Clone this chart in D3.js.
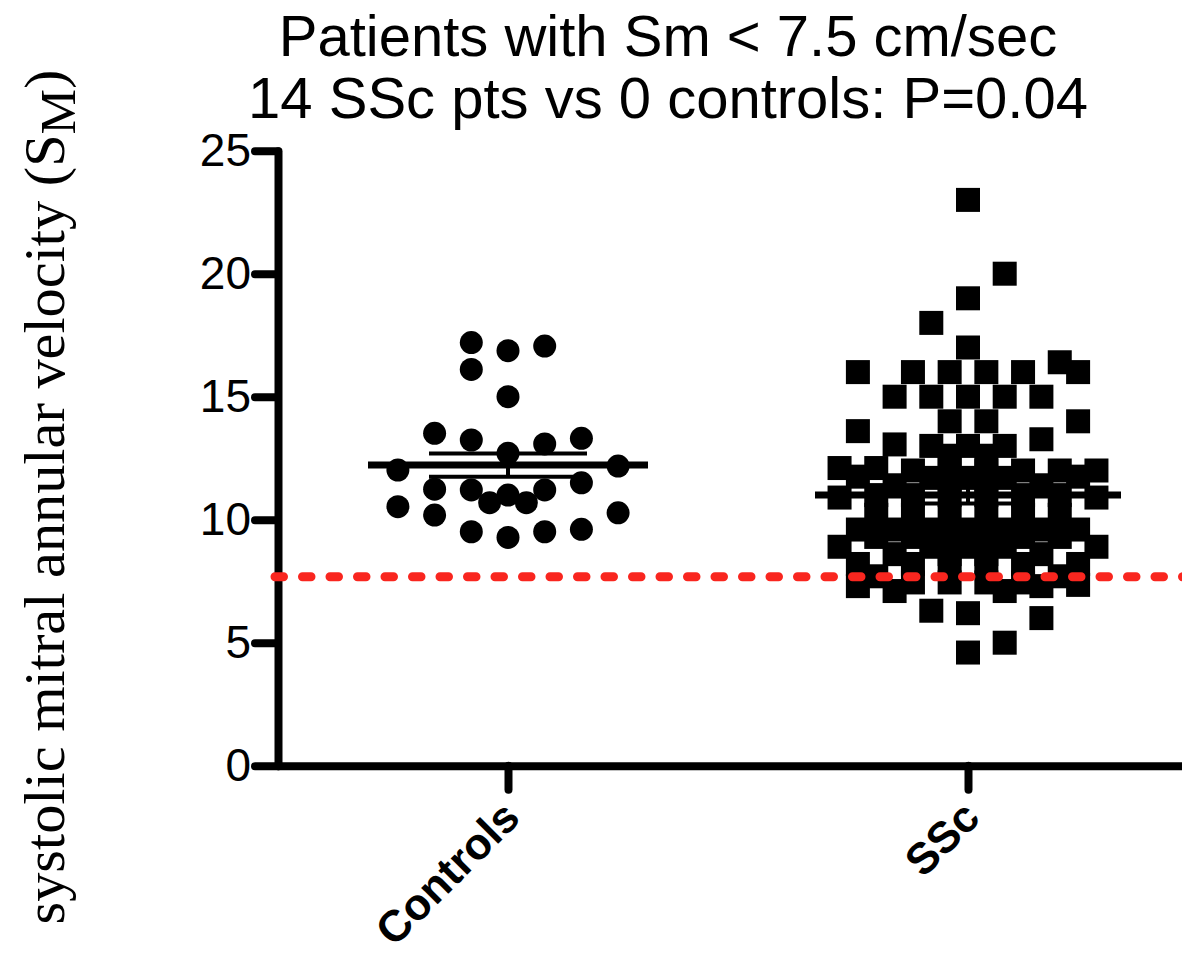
<!DOCTYPE html>
<html lang="en">
<head>
  <meta charset="UTF-8" />
  <title>Sm scatter</title>
  <style>
    body { margin: 0; background: #fff; }
    .axis path, .axis line {
      stroke: #000;
      stroke-width: 8px;
      stroke-linecap: round;
    }
    .axis text {
      font-family: "Liberation Sans", Arial, sans-serif;
      font-size: 46px;
      fill: #000;
    }
    .title {
      font-family: "Liberation Sans", Arial, sans-serif;
      font-size: 58px;
      text-anchor: middle;
    }
    .group-label {
      font-family: "Liberation Sans", Arial, sans-serif;
      font-size: 44px;
      font-weight: bold;
      text-anchor: end;
    }
    .y-label {
      font-family: "Liberation Serif", "Times New Roman", serif;
      font-size: 57px;
      text-anchor: middle;
    }
    .mean-line { stroke: #000; stroke-width: 7px; }
    .sem-line { stroke: #000; stroke-width: 4px; }
    .cutoff-line {
      fill: none;
      stroke: #f9261f;
      stroke-width: 9px;
      stroke-linecap: round;
      stroke-dasharray: 8.5, 19;
    }
  </style>
</head>
<body>
  <script src="https://cdn.jsdelivr.net/npm/d3@7"></script>
  <script>
    // data
    var groups = ["Controls", "SSc"];
    var titleLines = ["Patients with Sm < 7.5 cm/sec", "14 SSc pts vs 0 controls: P=0.04"];
    var yTicks = [0, 5, 10, 15, 20, 25];
    var cutoff = 7.68;
    var groupMeans = [12.22, 11.0];
    var groupSems = [0.47, 0.34];

    var controlsValues = [17.2, 16.87, 17.06, 16.11, 15.0, 13.51, 13.24, 12.7, 13.08, 13.31,
      12.02, 12.18, 11.24, 11.21, 10.69, 11.0, 10.69, 11.21, 11.5, 10.53,
      10.19, 10.28, 9.51, 9.28, 9.51, 9.61];
    var controlsSlots = [-2, 0, 2, -2, 0, -4, -2, 0, 2, 4,
      -6, 6, -4, -2, -1, 0, 1, 2, 4, -6,
      -4, 6, -2, 0, 2, 4];

    // SSc values, with their column slot in the scatter
    var sscValues = [23.0, 20.0, 19.0, 18.0, 17.0,
      16.0, 16.0, 16.0, 16.0, 16.0, 16.4, 16.0,
      15.0, 15.0, 15.0, 15.0, 15.0,
      14.0, 14.0, 14.0, 13.6,
      13.06, 13.0, 13.0, 13.0, 13.27,
      12.6, 12.6,
      12.1, 12.1, 12.0, 12.1, 12.0, 12.0, 12.0, 12.0,
      11.75, 11.7, 11.7, 11.7, 11.75,
      11.4, 11.4, 11.4, 11.4,
      10.9, 11.0, 11.0, 11.0, 11.0, 11.0, 11.0, 10.9,
      10.2, 10.2, 10.2, 10.2, 10.2, 10.2,
      9.6, 9.6, 9.6, 9.6, 9.6, 9.6, 9.6,
      9.3, 9.3, 9.3, 9.3, 9.3, 9.3,
      8.9, 8.9, 8.9, 8.9, 8.9,
      8.6, 8.6, 8.6, 8.6,
      8.2, 8.2, 8.2, 8.2, 8.2, 8.2,
      7.7, 7.7,
      7.3, 7.1, 7.45, 6.3, 7.45, 6.2, 4.6, 7.45, 7.1, 5.0, 7.45, 7.3, 6.0, 7.35];
    var sscSlots = [0, 2, 0, -2, 0,
      -6, -3, -1, 1, 3, 5, 6,
      -4, -2, 0, 2, 4,
      -1, 1, 6, -6,
      -4, -2, 0, 2, 4,
      -1, 1,
      -7, -5, -3, -1, 1, 3, 5, 7,
      -6, -2, 0, 2, 6,
      -4, -1, 1, 4,
      -7, -5, -3, -1, 1, 3, 5, 7,
      -5, -3, -1, 1, 3, 5,
      -6, -4, -2, 0, 2, 4, 6,
      -5, -3, -1, 1, 3, 5,
      -7, -2, 0, 2, 7,
      -4, -1, 1, 4,
      -6, -3, -1, 1, 3, 6,
      -5, 5,
      -6, -4, -3, -2, -1, 0, 0, 1, 2, 2, 3, 4, 4, 6];

    var w = 1182;
    var h = 956;
    var axisX = 278;
    var slotStep = 18.35;
    var meanHalf = [140, 153];
    var semHalf = [79, 62];

    var svg = d3.select("body").append("svg")
      .attr("width", w)
      .attr("height", h);

    var xScale = d3.scalePoint()
      .domain(groups)
      .range([axisX, 1198])
      .padding(0.5);

    var yScale = d3.scaleLinear()
      .domain([0, 25])
      .range([765.7, 150.7]);

    // titles
    svg.selectAll(".title")
      .data(titleLines)
      .enter()
      .append("text")
      .attr("class", "title")
      .attr("x", 668)
      .attr("y", function(d, i) { return 56 + i * 62; })
      .text(function(d) { return d; });

    // y label
    var yLabel = svg.append("text")
      .attr("class", "y-label")
      .attr("transform", "translate(64,497) rotate(-90)")
      .attr("textLength", 855)
      .attr("lengthAdjust", "spacingAndGlyphs");
    yLabel.append("tspan").text("systolic mitral annular velocity (S");
    yLabel.append("tspan").attr("dy", 11).style("font-size", "50px").text("M");
    yLabel.append("tspan").attr("dy", -11).text(")");

    // points
    var controls = controlsValues.map(function(v, i) {
      return { value: v, slot: controlsSlots[i] };
    });
    var ssc = sscValues.map(function(v, i) {
      return { value: v, slot: sscSlots[i] };
    });

    svg.append("g")
      .selectAll("circle")
      .data(controls)
      .enter()
      .append("circle")
      .attr("cx", function(d) { return xScale("Controls") + d.slot * slotStep; })
      .attr("cy", function(d) { return yScale(d.value); })
      .attr("r", 11.5)
      .attr("fill", "#000");

    var side = 24;
    svg.append("g")
      .selectAll("rect")
      .data(ssc)
      .enter()
      .append("rect")
      .attr("x", function(d) { return xScale("SSc") + d.slot * slotStep - side / 2; })
      .attr("y", function(d) { return yScale(d.value) - side / 2; })
      .attr("width", side)
      .attr("height", side)
      .attr("fill", "#000");

    // mean and sem bars
    groups.forEach(function(g, i) {
      var cx = xScale(g);
      svg.append("line")
        .attr("class", "mean-line")
        .attr("x1", cx - meanHalf[i])
        .attr("x2", cx + meanHalf[i])
        .attr("y1", yScale(groupMeans[i]))
        .attr("y2", yScale(groupMeans[i]));
      [1, -1].forEach(function(s) {
        svg.append("line")
          .attr("class", "sem-line")
          .attr("x1", cx - semHalf[i])
          .attr("x2", cx + semHalf[i])
          .attr("y1", yScale(groupMeans[i] + s * groupSems[i]))
          .attr("y2", yScale(groupMeans[i] + s * groupSems[i]));
      });
      svg.append("line")
        .attr("class", "sem-line")
        .attr("x1", cx)
        .attr("x2", cx)
        .attr("y1", yScale(groupMeans[i] + groupSems[i]))
        .attr("y2", yScale(groupMeans[i] - groupSems[i]));
    });

    // axes
    var yAxis = d3.axisLeft(yScale)
      .tickValues(yTicks)
      .tickSize(23)
      .tickSizeOuter(0)
      .tickPadding(4);

    var xAxis = d3.axisBottom(xScale)
      .tickSize(24)
      .tickSizeOuter(0)
      .tickFormat("");

    svg.append("g")
      .attr("class", "axis")
      .attr("transform", "translate(0," + yScale(0) + ")")
      .call(xAxis);

    svg.append("g")
      .attr("class", "axis")
      .attr("transform", "translate(" + axisX + ",0)")
      .call(yAxis);

    svg.selectAll(".group-label")
      .data(groups)
      .enter()
      .append("text")
      .attr("class", "group-label")
      .attr("transform", function(d) {
        return "translate(" + (xScale(d) + 14) + ",820) rotate(-45)";
      })
      .text(function(d) { return d; });

    // cutoff line
    svg.append("line")
      .attr("class", "cutoff-line")
      .attr("x1", 275)
      .attr("x2", w + 10)
      .attr("y1", yScale(cutoff))
      .attr("y2", yScale(cutoff));
  </script>
</body>
</html>
